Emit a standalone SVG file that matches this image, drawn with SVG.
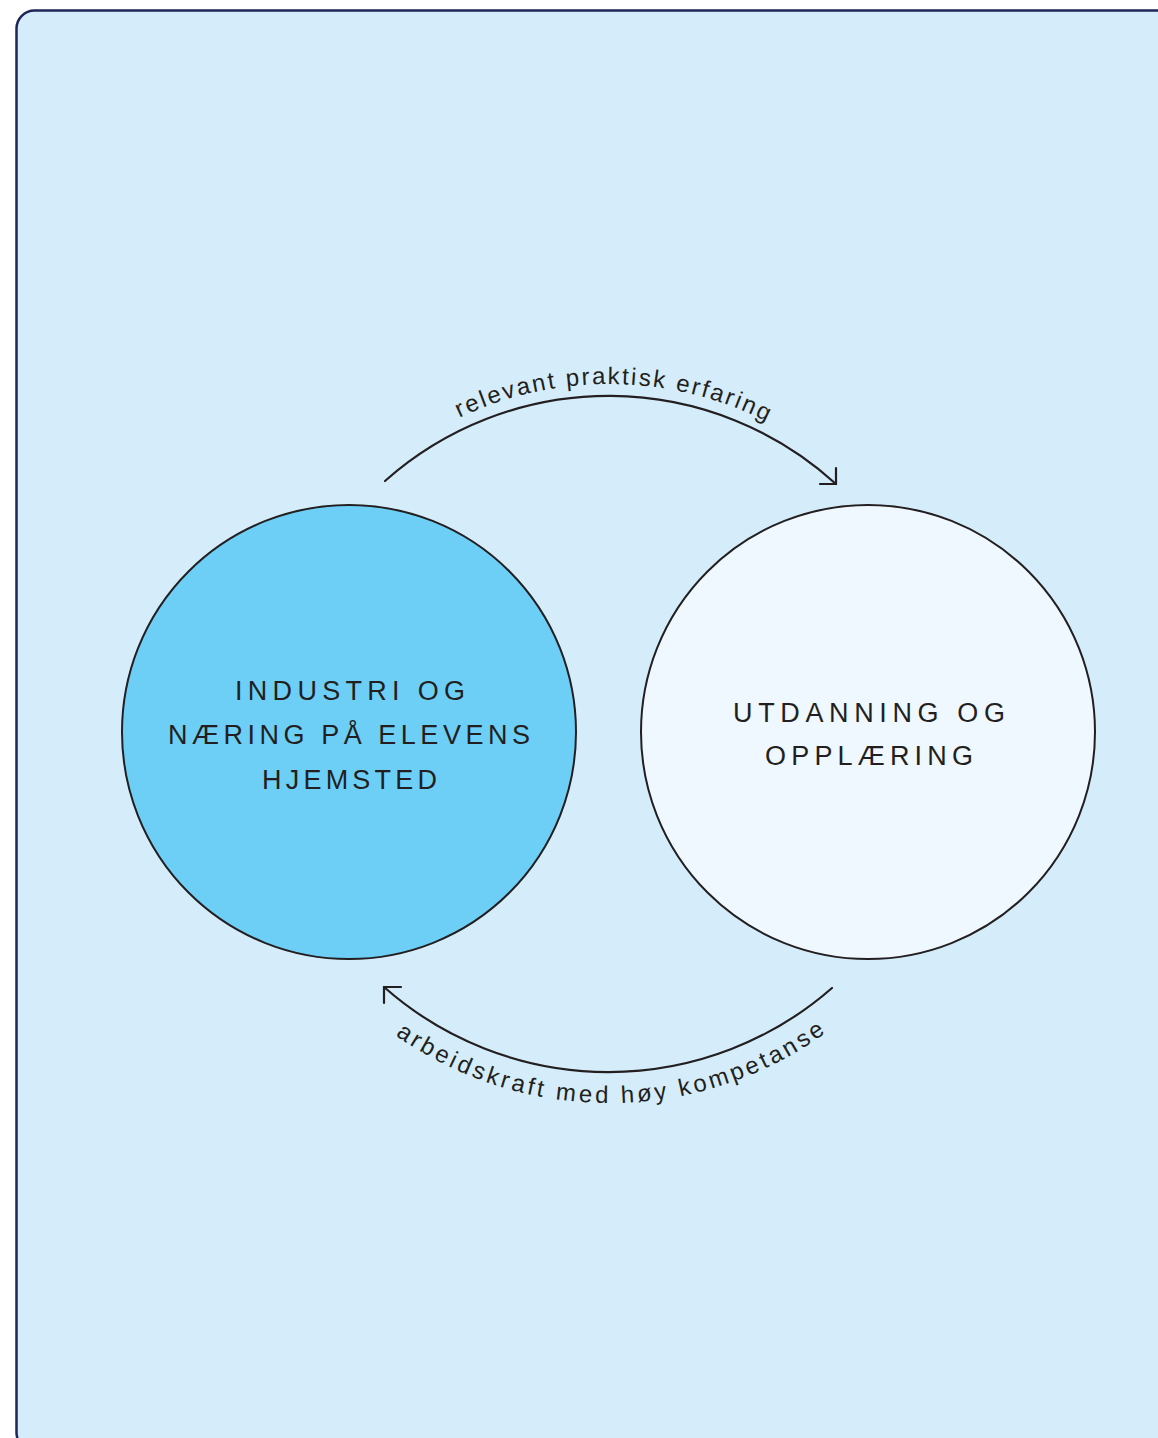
<svg xmlns="http://www.w3.org/2000/svg" width="1158" height="1438" viewBox="0 0 1158 1438">
<style>
.node-circle{stroke:#231f20;stroke-width:2}
.node-label{font-family:"Liberation Sans",Arial,sans-serif;font-size:27px;fill:#231f20;text-anchor:middle}
.conn{fill:none;stroke:#231f20;stroke-width:2.2;stroke-linecap:round;stroke-linejoin:round}
.conn-label{font-family:"Liberation Sans",Arial,sans-serif;font-size:24px;fill:#231f20}
</style>
<defs>
<path id="topTextPath" d="M260,733 A349,349 0 0 1 958,733"/>
<path id="bottomTextPath" d="M239,733 A370,370 0 0 0 979,733"/>
</defs>
<rect x="0" y="0" width="1158" height="1438" fill="#ffffff"/>
<rect id="frame" x="16.5" y="10.5" width="1160" height="1440" rx="18" fill="#d5edfa" stroke="#1f2659" stroke-width="2.5"/>
<g id="connectors">
<g id="conn-top">
<path class="conn" d="M385,481 A337,337 0 0 1 836,484"/>
<polyline class="conn" points="820,484 836,484 836,468"/>
<text class="conn-label" letter-spacing="2.2"><textPath href="#topTextPath" startOffset="50.5%" text-anchor="middle">relevant praktisk erfaring</textPath></text>
</g>
<g id="conn-bottom">
<path class="conn" d="M832,988 A339,339 0 0 1 384,987"/>
<polyline class="conn" points="401,987 384,987 384,1003"/>
<text class="conn-label" letter-spacing="3.2"><textPath href="#bottomTextPath" startOffset="50.3%" text-anchor="middle">arbeidskraft med høy kompetanse</textPath></text>
</g>
</g>
<g id="node-industri">
<circle class="node-circle" cx="349" cy="732" r="227" fill="#6dcff6"/>
<text class="node-label" x="350" y="700" textLength="230" lengthAdjust="spacing">INDUSTRI OG</text>
<text class="node-label" x="349" y="744" textLength="362" lengthAdjust="spacing">NÆRING PÅ ELEVENS</text>
<text class="node-label" x="349.5" y="789" textLength="175" lengthAdjust="spacing">HJEMSTED</text>
</g>
<g id="node-utdanning">
<circle class="node-circle" cx="868" cy="732" r="227" fill="#eef8fe"/>
<text class="node-label" x="869" y="722" textLength="272" lengthAdjust="spacing">UTDANNING OG</text>
<text class="node-label" x="869" y="765" textLength="208" lengthAdjust="spacing">OPPLÆRING</text>
</g>
</svg>
